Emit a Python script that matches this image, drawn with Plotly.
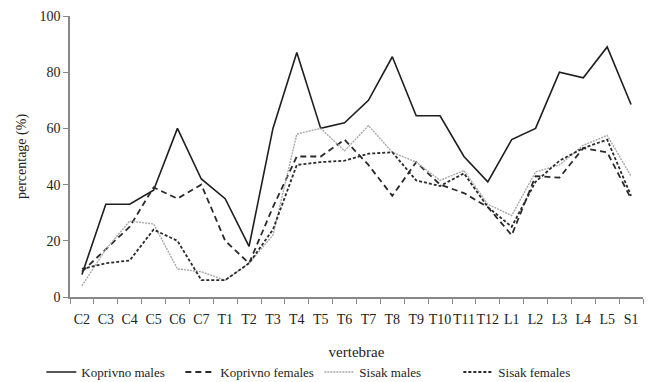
import plotly.graph_objects as go

categories = ["C2","C3","C4","C5","C6","C7","T1","T2","T3","T4","T5","T6","T7","T8","T9","T10","T11","T12","L1","L2","L3","L4","L5","S1"]
koprivno_males = [8,33,33,38,60,42,35,18,60,87,60,62,70,85.5,64.5,64.5,50,41,56,60,80,78,89,68.5]
koprivno_females = [9,17,25,39,35,40,20,12,32,50,50,56,47,36,48,40,37,32,22,43,42.5,53,51.5,35]
sisak_males = [4,17,27,26,10,9,6,12,22,58,60,52,61,51.5,48,41.5,45,33,29,44.5,47,54,57.5,43]
sisak_females = [10,12,13,24,20,6,6,12,24,47,48,48.5,51,51.5,41.5,39.5,44,32,25,41,48.5,53,56,36]

fig = go.Figure()
fig.add_trace(go.Scatter(x=categories, y=koprivno_males, name="Koprivno males", mode="lines",
                         line=dict(color="#1e1e1e", width=1.6)))
fig.add_trace(go.Scatter(x=categories, y=koprivno_females, name="Koprivno females", mode="lines",
                         line=dict(color="#2a2a2a", width=1.8, dash="6px,4px")))
fig.add_trace(go.Scatter(x=categories, y=sisak_males, name="Sisak males", mode="lines",
                         line=dict(color="#a8a8a8", width=1.4, dash="2px,1px")))
fig.add_trace(go.Scatter(x=categories, y=sisak_females, name="Sisak females", mode="lines",
                         line=dict(color="#2a2a2a", width=1.8, dash="3px,2px")))

ff = "Liberation Serif"
fig.update_layout(
    width=649, height=382,
    margin=dict(l=70, r=6, t=16, b=85, autoexpand=False),
    paper_bgcolor="white", plot_bgcolor="white",
    font=dict(family=ff, size=14, color="#222"),
    showlegend=True,
    legend=dict(orientation="h", x=-0.05, xanchor="left", y=-0.267, yanchor="middle",
                font=dict(family=ff, size=13, color="#222"), tracegroupgap=0,
                entrywidth=94, entrywidthmode="pixels",
                bgcolor="rgba(0,0,0,0)"),
    xaxis=dict(
        type="category", showgrid=False, showline=True, linecolor="#888", linewidth=1.5,
        ticks="outside", tickson="boundaries", ticklen=5, tickcolor="#888", tickangle=0,
        ticklabelstandoff=8,
        title=dict(text="vertebrae", standoff=21, font=dict(family=ff, size=15, color="#222")),
        tickfont=dict(family=ff, size=14, color="#222"),
        range=[-0.5, 23.5],
    ),
    yaxis=dict(
        range=[0, 100], tickvals=[0,20,40,60,80,100], showgrid=False, zeroline=False,
        showline=True, linecolor="#888", linewidth=1.5, ticks="outside", ticklen=5,
        tickcolor="#888",
        title=dict(text="percentage (%)", standoff=10, font=dict(family=ff, size=14, color="#222")),
        tickfont=dict(family=ff, size=14, color="#222"),
    ),
)
fig.write_html("out.html")
